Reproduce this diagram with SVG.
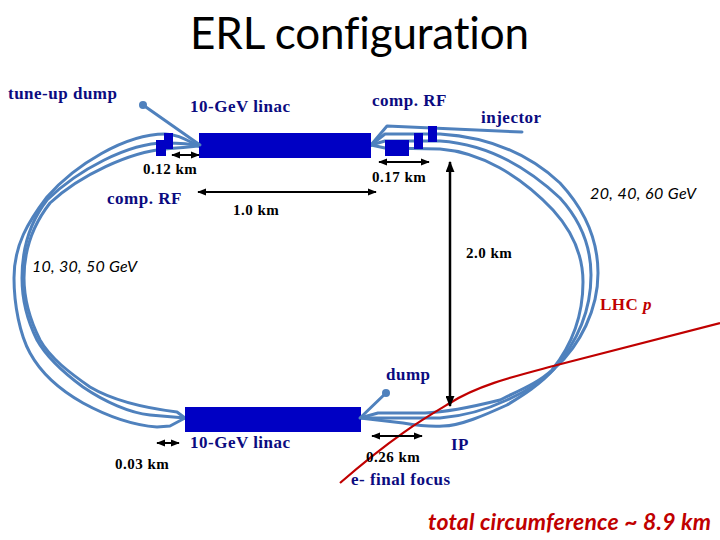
<svg xmlns="http://www.w3.org/2000/svg" width="720" height="540" viewBox="0 0 720 540">
<style>
.bl{fill:#0000c4}
.b{fill:none;stroke:#4f81bd;stroke-width:3;stroke-linejoin:round;stroke-linecap:round}
.d{fill:#4f81bd}
.a{fill:none;stroke:#000;stroke-width:2;marker-start:url(#m);marker-end:url(#m)}
.s{font-family:"Liberation Serif",serif;font-weight:bold;letter-spacing:.5px}
.n{fill:#0b0b80;font-size:17px}
.k{fill:#000;font-size:15px}
.c{font-family:Lato,"Open Sans",sans-serif;font-style:italic;font-size:16px;fill:#000}
</style>
<defs><marker id="m" viewBox="0 0 10 8" refX="9" refY="4" markerWidth="4.5" markerHeight="3.6" orient="auto-start-reverse"><path d="M0 0L10 4L0 8Z" fill="#000"/></marker></defs>
<rect width="720" height="540" fill="#fff"/>
<text x="190" y="49" font-family="Lato,'Open Sans',sans-serif" font-size="44" textLength="339" style="font-variant-ligatures:none" fill="#000">ERL configuration</text>
<g id="beamlines">
<path class="b" d="M199 146C188 141 178 134 165 134C125 134 75 165 47 197C28 222 14 245 14 278C14 305 20 335 30 353C42 375 60 390 83 403C105 415 130 425 157 427L170 426L185 418"/>
<path class="b" d="M199 146C188 143 178 143 165 143C128 143 78 170 47 200C30 222 22 248 22 278C22 300 28 322 37 340C47 358 64 373 83 387C105 402 130 413 150 415L185 418"/>
<path class="b" d="M199 146C188 147 178 148 165 149C130 152 80 175 50 203C32 226 24 250 24 278C24 300 31 322 40 340C50 358 70 373 90 387C112 400 145 408 177 412L185 418"/>
<path class="b" d="M371 145L387 126L522 132"/>
<path class="b" d="M371 145L385 134L440 134C490 137 530 155 560 183C585 210 598 240 598 273C598 310 580 345 555 368C540 385 520 397 507 405C485 415 460 426 443 426C430 427 415 425 403 423L360 418"/>
<path class="b" d="M371 145L385 141L440 141C485 144 525 165 560 198C580 220 591 245 591 275C591 315 575 345 553 370C540 383 525 392 507 400C490 408 465 416 440 418L360 418"/>
<path class="b" d="M371 145L385 148L440 149C480 152 520 175 553 210C573 232 583 255 583 282C583 315 572 345 552 370C538 383 520 390 500 400C480 405 450 412 425 413L378 413L360 418"/>
</g>
<g id="lhc"><path d="M720 323L557 365C520 375 480 384 450 403C425 418 395 435 340 483" fill="none" stroke="#c00000" stroke-width="2.2"/></g>
<g id="linac-top"><rect class="bl" x="199" y="133" width="172" height="25"/></g>
<g id="linac-bottom"><rect class="bl" x="185" y="407" width="176" height="25"/></g>
<g id="rf-left"><rect class="bl" x="156" y="140" width="10" height="16"/><rect class="bl" x="164" y="133" width="9" height="16"/></g>
<g id="rf-right"><rect class="bl" x="385" y="140" width="24" height="16"/><rect class="bl" x="414" y="133" width="9" height="16"/><rect class="bl" x="428" y="126" width="9" height="16"/></g>
<g id="tune-up-dump"><path class="b" d="M143 105L200 145"/><circle class="d" cx="143" cy="105" r="4"/></g>
<g id="dump"><path class="b" d="M386 393L360 418"/><circle class="d" cx="386" cy="393" r="4"/></g>
<g id="dimensions">
<path class="a" d="M172 155H199"/>
<path class="a" d="M198 192H376"/>
<path class="a" d="M379 162H429"/>
<path class="a" style="stroke-width:2.5" d="M450 162V406"/>
<path class="a" d="M372 436H422"/>
<path class="a" d="M157 443H179"/>
</g>
<g id="labels">
<text class="s n" x="8" y="99">tune-up dump</text>
<text class="s n" x="190" y="112">10-GeV linac</text>
<text class="s n" x="372" y="106">comp. RF</text>
<text class="s n" x="481" y="123">injector</text>
<text class="s k" x="143" y="174">0.12 km</text>
<text class="s k" x="372" y="182">0.17 km</text>
<text class="s n" x="107" y="204">comp. RF</text>
<text class="s k" x="233" y="215">1.0 km</text>
<text class="s k" x="466" y="258">2.0 km</text>
<text class="c" x="590" y="199" textLength="106">20, 40, 60 GeV</text>
<text class="c" x="32" y="272" textLength="105">10, 30, 50 GeV</text>
<text class="s" x="600" y="310" font-size="17" fill="#c00000">LHC <tspan font-style="italic">p</tspan></text>
<text class="s n" x="386" y="380">dump</text>
<text class="s n" x="190" y="448">10-GeV linac</text>
<text class="s k" x="115" y="469">0.03 km</text>
<text class="s k" x="366" y="462">0.26 km</text>
<text class="s n" x="451" y="450">IP</text>
<text class="s n" x="351" y="485">e- final focus</text>
<text x="428" y="530" font-family="Lato,'Open Sans',sans-serif" font-style="italic" font-weight="bold" font-size="23" textLength="283" fill="#c00000">total circumference ~ 8.9 km</text>
</g>
</svg>
